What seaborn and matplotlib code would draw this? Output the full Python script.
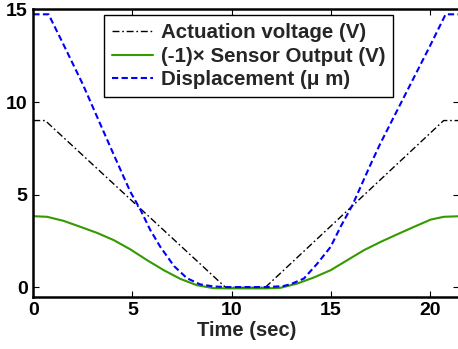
import matplotlib
matplotlib.use("Agg")
import matplotlib.pyplot as plt
import seaborn as sns
import numpy as np

# ---- data ----
act_t = [0.0, 0.6, 9.7, 11.7, 20.7, 21.5]
act_v = [9.0, 9.0, 0.0, 0.0, 9.0, 9.0]

sens_t = [0.0, 0.69, 1.53, 2.37, 3.22, 4.06, 4.9, 5.74, 6.58, 7.42, 8.25, 9.09, 9.8,
          11.8, 12.47, 13.32, 14.16, 15.0, 15.84, 16.68, 17.53, 18.37, 19.21, 20.05, 20.71, 21.5]
sens_v = [3.84, 3.81, 3.59, 3.27, 2.94, 2.55, 2.05, 1.47, 0.93, 0.46, 0.12, -0.04, -0.05,
          -0.05, -0.02, 0.21, 0.54, 0.93, 1.47, 2.01, 2.46, 2.87, 3.27, 3.66, 3.81, 3.84]

disp_t = [0.0, 0.77, 1.5, 2.5, 3.3, 4.0, 4.5, 4.9, 5.4, 5.9, 6.4, 7.1, 7.75, 8.4, 9.1, 9.8,
          11.8, 12.6, 13.0, 13.65, 14.33, 15.0, 15.5, 16.1, 16.5, 17.0, 17.5, 18.0, 18.5,
          19.0, 19.5, 20.0, 20.8, 21.5]
disp_v = [14.73, 14.73, 13.15, 10.95, 9.0, 7.3, 6.1, 5.15, 4.2, 3.1, 2.2, 1.15, 0.5, 0.17, 0.05, 0.02,
          0.02, 0.07, 0.18, 0.48, 1.29, 2.19, 3.27, 4.44, 5.4, 6.6, 7.75, 8.8, 9.85,
          10.9, 11.95, 13.0, 14.73, 14.73]

labels = ["Actuation voltage (V)", "(-1)\u00d7 Sensor Output (V)", "Displacement (\u03bc m)"]
xticks = [0, 5, 10, 15, 20]
yticks = [0, 5, 10, 15]

sns.set_style("ticks")
plt.rcParams['font.family'] = ['Liberation Sans', 'DejaVu Sans']
plt.rcParams['font.weight'] = 'bold'

W, H = 458, 349
fig = plt.figure(figsize=(W / 100, H / 100), dpi=100)
left, right, bottom, top = 33.3, 459.5, 296.7, 9.3
ax = fig.add_axes([left / W, 1 - bottom / H, (right - left) / W, (bottom - top) / H])

sns.lineplot(x=act_t, y=act_v, ax=ax, color="black", lw=1.0, label=labels[0],
             dashes=False, estimator=None, sort=False)
sns.lineplot(x=sens_t, y=sens_v, ax=ax, color="#339a00", lw=1.5, label=labels[1],
             estimator=None, sort=False)
sns.lineplot(x=disp_t, y=disp_v, ax=ax, color="#0000ff", lw=1.5, label=labels[2],
             estimator=None, sort=False)
lines = ax.get_lines()
lines[0].set_dashes((5, 2, 1.2, 2))
lines[2].set_dashes((3, 1.6))

ax.set_xlim(0, 21.5)
ax.set_ylim(-0.5, 15)
ax.set_xticks(xticks)
ax.set_yticks(yticks)
ax.tick_params(direction="in", length=4, width=0.8, top=True, right=True,
               labelsize=14, pad=4, colors="black")
for lab in ax.get_xticklabels() + ax.get_yticklabels():
    lab.set_fontweight("bold")
for s in ax.spines.values():
    s.set_linewidth(1.8)
    s.set_color("black")
ax.set_xlabel("Time (sec)", fontsize=14.5, fontweight="bold", labelpad=1)
ax.set_ylabel("")

handles = ax.get_lines()
leg = ax.legend(handles=handles, labels=labels, loc="upper left",
                bbox_to_anchor=(104 / W, 1 - 15 / H), bbox_transform=fig.transFigure,
                borderaxespad=0, fancybox=False, framealpha=1, edgecolor="black",
                prop={"weight": "bold", "size": 14.8}, handlelength=2.0,
                handletextpad=0.35, labelspacing=0.22, borderpad=0.4)
leg.get_frame().set_linewidth(1.0)

fig.savefig("out.png", dpi=100)
